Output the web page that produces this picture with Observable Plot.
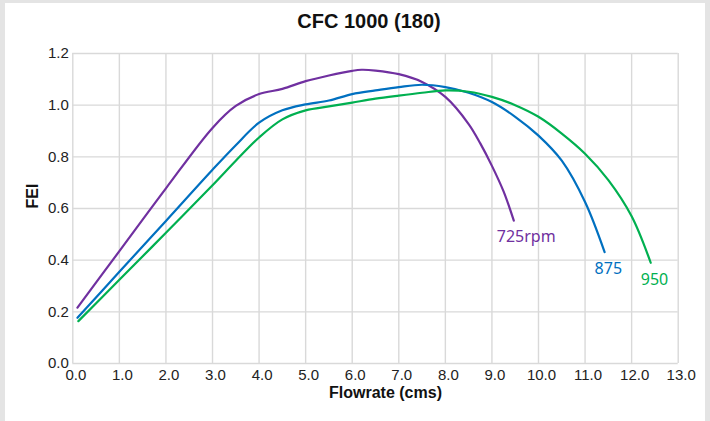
<!DOCTYPE html>
<html>
<head>
<meta charset="utf-8">
<script src="https://cdn.jsdelivr.net/npm/d3@7"></script>
<script src="https://cdn.jsdelivr.net/npm/@observablehq/plot@0.6"></script>
<style>
  html, body { margin: 0; padding: 0; }
  body { width: 710px; height: 421px; background: #e4e4e4; position: relative; overflow: hidden; font-family: "Liberation Sans", Arial, sans-serif; }
  #panel { position: absolute; left: 5px; top: 3px; width: 700px; height: 430px; background: #fff; }
  #title { position: absolute; left: 0; top: 10px; width: 710px; text-align: center; font: bold 20px "Liberation Sans", Arial, sans-serif; color: #111; padding-left: 28px; box-sizing: border-box; }
  #chart { position: absolute; left: 0; top: 40px; }
</style>
</head>
<body>
<div id="panel"></div>
<div id="title">CFC 1000 (180)</div>
<div id="chart"></div>
<script>
// ---- data ----
const seriesNames = ["725", "875", "950"];
const seriesLabels = ["725rpm", "875", "950"];
const seriesColors = ["#7030a0", "#0070c0", "#00b050"];

const flow725 = [0.1, 1, 2, 3, 3.5, 4, 4.5, 5, 5.5, 6, 6.2, 6.5, 7, 7.5, 8, 8.5, 8.75, 9, 9.25, 9.47];
const fei725  = [0.216, 0.435, 0.678, 0.912, 0.997, 1.043, 1.063, 1.093, 1.115, 1.133, 1.137, 1.134, 1.12, 1.09, 1.032, 0.927, 0.852, 0.765, 0.666, 0.553];

const flow875 = [0.1, 1, 2, 3, 3.5, 4, 4.5, 5, 5.5, 6, 6.5, 7, 7.5, 8, 8.5, 9, 9.5, 10, 10.5, 11, 11.42];
const fei875  = [0.177, 0.355, 0.552, 0.75, 0.845, 0.932, 0.98, 1.003, 1.018, 1.043, 1.057, 1.07, 1.079, 1.07, 1.048, 1.012, 0.955, 0.882, 0.785, 0.625, 0.431];

const flow950 = [0.12, 1, 2, 3, 3.5, 4, 4.5, 5, 5.5, 6, 6.5, 7, 7.5, 8, 8.5, 9, 9.5, 10, 10.5, 11, 11.5, 12, 12.41];
const fei950  = [0.164, 0.324, 0.506, 0.69, 0.785, 0.875, 0.945, 0.98, 0.995, 1.01, 1.025, 1.037, 1.048, 1.057, 1.052, 1.032, 1.0, 0.955, 0.89, 0.812, 0.71, 0.57, 0.39];

const xTicks = [0, 1, 2, 3, 4, 5, 6, 7, 8, 9, 10, 11, 12, 13];
const yTicks = [0, 0.2, 0.4, 0.6, 0.8, 1.0, 1.2];

const xTitle = "Flowrate (cms)";
const yTitle = "FEI";

// ---- build table ----
const flows = [flow725, flow875, flow950];
const feis = [fei725, fei875, fei950];
const rows = seriesNames.flatMap((s, i) => flows[i].map((f, j) => ({series: s, flow: f, fei: feis[i][j]})));
const ends = seriesNames.map((s, i) => ({
  series: s, label: seriesLabels[i],
  flow: flows[i][flows[i].length - 1], fei: feis[i][feis[i].length - 1]
}));
const labelOffsets = {"725": [-17, 16], "875": [-10, 17], "950": [-10, 17]};

const chart = Plot.plot({
  width: 710,
  height: 381,
  marginTop: 13,
  marginBottom: 58,
  marginLeft: 72.3,
  marginRight: 32.3,
  style: {background: "transparent", fontFamily: "Liberation Sans, Arial, sans-serif", overflow: "visible"},
  x: {domain: [0, 13]},
  y: {domain: [0, 1.2]},
  color: {domain: seriesNames, range: seriesColors},
  marks: [
    Plot.ruleX(xTicks, {x: d => d, stroke: "#d9d9d9", strokeWidth: 1.4}),
    Plot.ruleY(yTicks, {y: d => d, stroke: "#d9d9d9", strokeWidth: 1.4}),
    Plot.axisX(xTicks, {tickSize: 0, tickPadding: 6, tickFormat: d => d.toFixed(1), fontSize: 15, fill: "#222", dx: 3, label: null}),
    Plot.axisY(yTicks, {tickSize: 0, tickPadding: 4, tickFormat: d => d.toFixed(1), fontSize: 15, fill: "#222", label: null}),
    Plot.line(rows, {x: "flow", y: "fei", z: "series", stroke: "series", strokeWidth: 2.2, curve: "catmull-rom"}),
    ...ends.map(e => Plot.text([e], {
      x: "flow", y: "fei", text: "label", fill: seriesColors[seriesNames.indexOf(e.series)],
      textAnchor: "start", dx: labelOffsets[e.series][0], dy: labelOffsets[e.series][1],
      fontSize: 16, fontFamily: "Noto Sans, sans-serif"
    })),
    Plot.text([xTitle], {frameAnchor: "bottom", text: d => d, dx: 10, dy: 34, fontSize: 16, fontWeight: "bold", fill: "#111"}),
    Plot.text([yTitle], {frameAnchor: "left", text: d => d, rotate: -90, dx: -40, fontSize: 16, fontWeight: "bold", fill: "#111"})
  ]
});
document.getElementById("chart").appendChild(chart);
</script>
</body>
</html>
